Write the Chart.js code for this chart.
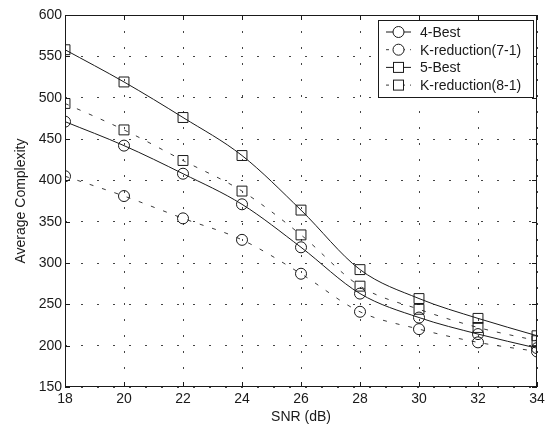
<!DOCTYPE html>
<html>
<head>
<meta charset="utf-8">
<script src="https://cdn.jsdelivr.net/npm/chart.js@4/dist/chart.umd.min.js"></script>
<style>
  html, body { margin: 0; padding: 0; background: #fff; }
  #wrap { width: 545px; height: 426px; }
</style>
</head>
<body>
<div id="wrap"><canvas id="lineChart" width="545" height="426"></canvas></div>
<script>
const snr = [18, 20, 22, 24, 26, 28, 30, 32, 34];
const best4 = [471, 442, 408, 371, 319, 263, 234, 214, 197];
const kred71 = [405, 381, 354, 328, 287, 241, 220, 204, 193];
const best5 = [558, 519, 476, 430, 364, 292, 257, 233, 212];
const kred81 = [493, 461, 424, 387, 334, 272, 244, 222, 206];
const seriesNames = ['4-Best', 'K-reduction(7-1)', '5-Best', 'K-reduction(8-1)'];

const FONT = 'Liberation Sans, Arial, Helvetica, sans-serif';
const INK = '#1a1a1a';

function pts(vals) {
    return snr.map((x, i) => ({ x: x, y: vals[i] }));
}

function makeSet(label, vals, shape, dashed) {
    return {
        label: label,
        data: pts(vals),
        borderColor: dashed ? '#3a3a3a' : INK,
        borderWidth: 1,
        borderDash: dashed ? [4, 9] : [],
        pointStyle: shape,
        pointRadius: shape === 'rect' ? 7 : 5.5,
        pointBorderColor: INK,
        pointBorderWidth: 1,
        pointBackgroundColor: 'rgba(0,0,0,0)',
        cubicInterpolationMode: 'monotone',
        fill: false
    };
}

// frame, inner ticks and boxed legend like the original figure
const framePlugin = {
    id: 'frame',
    afterDraw(c) {
        const ctx = c.ctx;
        const a = c.chartArea;
        const xs = c.scales.x, ys = c.scales.y;
        ctx.save();
        ctx.strokeStyle = INK;
        ctx.lineWidth = 1;
        ctx.setLineDash([]);
        ctx.strokeRect(a.left + 0.5, a.top + 0.5, a.right - a.left - 1, a.bottom - a.top - 1);
        ctx.beginPath();
        snr.forEach(v => {
            const px = Math.round(xs.getPixelForValue(v)) + 0.5;
            ctx.moveTo(px, a.bottom); ctx.lineTo(px, a.bottom - 5);
            ctx.moveTo(px, a.top); ctx.lineTo(px, a.top + 5);
        });
        for (let v = 150; v <= 600; v += 50) {
            const py = Math.round(ys.getPixelForValue(v)) + 0.5;
            ctx.moveTo(a.left, py); ctx.lineTo(a.left + 5, py);
            ctx.moveTo(a.right, py); ctx.lineTo(a.right - 5, py);
        }
        ctx.stroke();

        // legend
        const lx = 378, ly = 20, lw = 155, lh = 77;
        ctx.fillStyle = '#fff';
        ctx.fillRect(lx, ly, lw, lh);
        ctx.strokeRect(lx + 0.5, ly + 0.5, lw, lh);
        c.data.datasets.forEach((ds, i) => {
            const y = ly + 12 + i * 17.7;
            ctx.strokeStyle = ds.borderColor;
            ctx.setLineDash(ds.borderDash.length ? [3, 5] : []);
            ctx.beginPath();
            ctx.moveTo(386, y); ctx.lineTo(411, y);
            ctx.stroke();
            ctx.setLineDash([]);
            ctx.strokeStyle = INK;
            ctx.fillStyle = '#fff';
            ctx.beginPath();
            if (ds.pointStyle === 'rect') {
                ctx.fillRect(393.5, y - 5, 10, 10);
                ctx.strokeRect(393.5, y - 5, 10, 10);
            } else {
                ctx.arc(398.5, y, 5.5, 0, Math.PI * 2);
                ctx.fill();
                ctx.stroke();
            }
            ctx.fillStyle = INK;
            ctx.font = '14px ' + FONT;
            ctx.textBaseline = 'middle';
            ctx.fillText(seriesNames[i], 420, y + 1);
        });
        ctx.restore();
    }
};

function initChart() {
    const ctx = document.getElementById('lineChart').getContext('2d');
    new Chart(ctx, {
        type: 'line',
        data: {
            datasets: [
                makeSet(seriesNames[0], best4, 'circle', false),
                makeSet(seriesNames[1], kred71, 'circle', true),
                makeSet(seriesNames[2], best5, 'rect', false),
                makeSet(seriesNames[3], kred81, 'rect', true)
            ]
        },
        options: {
            responsive: false,
            animation: false,
            events: [],
            layout: { padding: { top: 15, right: 5, left: 0, bottom: 0 } },
            plugins: {
                legend: { display: false },
                tooltip: { enabled: false }
            },
            scales: {
                x: {
                    type: 'linear',
                    min: 18,
                    max: 34,
                    ticks: {
                        stepSize: 2,
                        color: INK,
                        padding: 4,
                        maxRotation: 0,
                        font: { family: FONT, size: 14 }
                    },
                    grid: { color: '#444', drawTicks: false, lineWidth: 1 },
                    border: { display: false, dash: [2, 14] },
                    title: {
                        display: true,
                        text: 'SNR (dB)',
                        color: INK,
                        font: { family: FONT, size: 14 },
                        padding: { top: 0, bottom: 0 }
                    },
                    afterFit(s) { s.height = 39; s.paddingLeft = 0; s.paddingRight = 0; }
                },
                y: {
                    min: 150,
                    max: 600,
                    ticks: {
                        stepSize: 50,
                        color: INK,
                        padding: 3,
                        font: { family: FONT, size: 14 }
                    },
                    grid: { color: '#444', drawTicks: false, lineWidth: 1 },
                    border: { display: false, dash: [2, 14] },
                    title: {
                        display: true,
                        text: 'Average Complexity',
                        color: INK,
                        font: { family: FONT, size: 14 },
                        padding: { top: 13, bottom: 0 }
                    },
                    afterFit(s) { s.width = 65; s.paddingTop = 0; s.paddingBottom = 0; }
                }
            }
        },
        plugins: [framePlugin]
    });
}

document.addEventListener('DOMContentLoaded', initChart);
</script>
</body>
</html>
